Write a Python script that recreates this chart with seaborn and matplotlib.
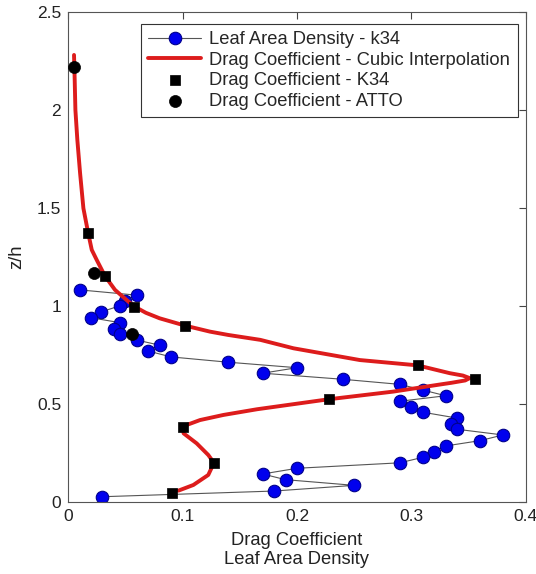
import numpy as np
import pandas as pd
import matplotlib
matplotlib.use("Agg")
import matplotlib.pyplot as plt
import seaborn as sns

# =========================
# Dados
# =========================
# Leaf Area Density - k34 (x, z/h), ligados na ordem de cima para baixo
lad_x = [0.01, 0.06, 0.05, 0.045, 0.029, 0.02, 0.045, 0.04, 0.045, 0.06,
         0.08, 0.07, 0.09, 0.14, 0.20, 0.17, 0.24, 0.29, 0.31, 0.33,
         0.29, 0.30, 0.31, 0.34, 0.335, 0.34, 0.38, 0.36, 0.33, 0.32,
         0.31, 0.29, 0.20, 0.17, 0.19, 0.25, 0.18, 0.03]
lad_z = [1.082, 1.055, 1.027, 1.0, 0.97, 0.94, 0.915, 0.884, 0.855, 0.826,
         0.80, 0.77, 0.74, 0.713, 0.685, 0.657, 0.626, 0.60, 0.571, 0.542,
         0.514, 0.486, 0.458, 0.428, 0.40, 0.371, 0.342, 0.313, 0.286, 0.257,
         0.228, 0.20, 0.172, 0.143, 0.114, 0.085, 0.056, 0.027]

# Drag Coefficient - Cubic Interpolation (curva lida ponto a ponto)
cd_curve_x = [0.0052, 0.0058, 0.0064, 0.0081, 0.0105, 0.0134, 0.0175, 0.0207,
              0.025, 0.0323, 0.041, 0.0512, 0.058, 0.068, 0.08, 0.102, 0.124,
              0.14, 0.168, 0.197, 0.255, 0.3054, 0.3336, 0.345, 0.351, 0.347,
              0.335, 0.328, 0.284, 0.2277, 0.165, 0.1357, 0.1153, 0.1037,
              0.0998, 0.101, 0.1124, 0.1225, 0.1275, 0.1225, 0.1095, 0.0964]
cd_curve_z = [2.28, 2.15, 2.0, 1.847, 1.677, 1.498, 1.374, 1.286,
              1.235, 1.152, 1.082, 1.03, 0.997, 0.965, 0.937, 0.90, 0.869,
              0.852, 0.827, 0.784, 0.724, 0.697, 0.657, 0.645, 0.632, 0.62,
              0.608, 0.602, 0.563, 0.524, 0.473, 0.444, 0.418, 0.393,
              0.384, 0.35, 0.299, 0.24, 0.20, 0.138, 0.087, 0.058]

# Drag Coefficient - K34
k34_x = [0.0172, 0.0323, 0.058, 0.102, 0.3054, 0.3555, 0.2277, 0.100, 0.1275, 0.0905]
k34_z = [1.372, 1.152, 0.997, 0.900, 0.697, 0.629, 0.524, 0.384, 0.197, 0.044]

# Drag Coefficient - ATTO
atto_x = [0.0052, 0.023, 0.056]
atto_z = [2.221, 1.167, 0.859]

x_ticks = [0, 0.1, 0.2, 0.3, 0.4]
x_tick_labels = ["0", "0.1", "0.2", "0.3", "0.4"]
y_ticks = [0, 0.5, 1, 1.5, 2, 2.5]
y_tick_labels = ["0", "0.5", "1", "1.5", "2", "2.5"]

# =========================
# Estilo
# =========================
sns.set_style("white")
plt.rcParams['font.family'] = ['Liberation Sans', 'DejaVu Sans']
FS_TICK = 12.5
FS = 13.2

fig = plt.figure(figsize=(5.36, 5.74), dpi=100)
ax = fig.add_axes([0.127, 0.1254, 0.854, 0.854])

sns.lineplot(x=lad_x, y=lad_z, sort=False, estimator=None, ax=ax,
             color='#555555', linewidth=0.8, marker='o', markersize=9,
             markerfacecolor='#0000ee', markeredgecolor='#00008b',
             markeredgewidth=0.8, label='Leaf Area Density - k34', zorder=2)

sns.lineplot(x=cd_curve_x, y=cd_curve_z, sort=False, estimator=None, ax=ax,
             color='#dd1c1c', linewidth=2.8,
             label='Drag Coefficient - Cubic Interpolation', zorder=3)

sns.scatterplot(x=k34_x, y=k34_z, ax=ax, marker='s', s=55, color='black',
                edgecolor='black', linewidth=0.5,
                label='Drag Coefficient - K34', zorder=4)

sns.scatterplot(x=atto_x, y=atto_z, ax=ax, marker='o', s=75, color='black',
                edgecolor='black', linewidth=0.5,
                label='Drag Coefficient - ATTO', zorder=5)

ax.set_xlim(0, 0.4)
ax.set_ylim(0, 2.5)
ax.set_xticks(x_ticks)
ax.set_xticklabels(x_tick_labels)
ax.set_yticks(y_ticks)
ax.set_yticklabels(y_tick_labels)
ax.tick_params(direction='in', top=True, right=True, length=5, width=0.8,
               colors='#444444', labelcolor='#222222', labelsize=FS_TICK, pad=5)
for sp in ax.spines.values():
    sp.set_color('#555555')
    sp.set_linewidth(0.8)

ax.set_xlabel('Drag Coefficient\nLeaf Area Density', fontsize=FS, color='#222222',
              linespacing=1.15, labelpad=6)
ax.set_ylabel('z/h', fontsize=FS, color='#222222', labelpad=8)

leg = ax.legend(loc='upper right', bbox_to_anchor=(0.982, 0.976), fontsize=FS,
                frameon=True, fancybox=False, framealpha=1, edgecolor='#333333',
                handlelength=2.9, handletextpad=0.45, labelspacing=0.2,
                borderpad=0.4, borderaxespad=0)
leg.get_frame().set_linewidth(0.8)

fig.savefig('out.png', dpi=100)
